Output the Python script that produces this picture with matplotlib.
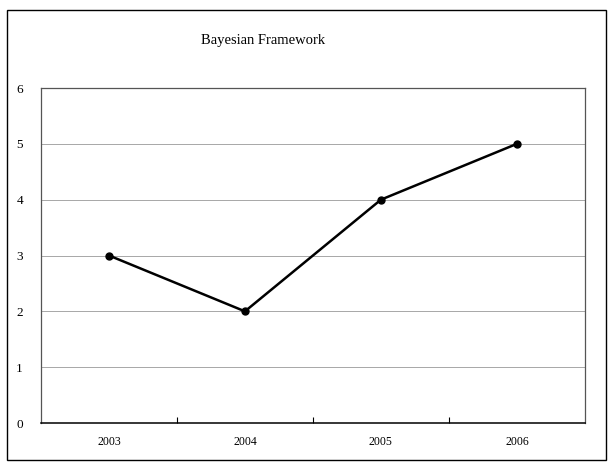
import matplotlib.pyplot as plt
from matplotlib.patches import Rectangle

years = ['2003', '2004', '2005', '2006']
values = [3, 2, 4, 5]

plt.rcParams['font.family'] = ['Liberation Serif', 'DejaVu Serif']

fig = plt.figure(figsize=(6.08, 4.62), dpi=100)
ax = fig.add_axes([0.0674, 0.0844, 0.8946, 0.7251])

# horizontal gridlines
for y in range(1, 7):
    ax.axhline(y, color='#999999', lw=0.6, zorder=1)

ax.plot(range(len(years)), values, color='black', lw=1.8, marker='o',
        markersize=5, zorder=3)

ax.set_xlim(-0.5, len(years) - 0.5)
ax.set_ylim(0, 6)
ax.set_yticks(range(0, 7))
ax.set_xticks(range(len(years)))
ax.set_xticklabels(years, fontsize=8.5)
ax.tick_params(axis='x', length=0, pad=9)
ax.tick_params(axis='y', length=0, pad=13, labelsize=9.5)
# category separator ticks (inward)
ax.set_xticks([0.5, 1.5, 2.5], minor=True)
ax.tick_params(axis='x', which='minor', direction='in', length=4, width=0.8)

for s in ax.spines.values():
    s.set_color('#555555')
    s.set_linewidth(0.9)
ax.spines['bottom'].set_color('black')
ax.spines['bottom'].set_linewidth(1.1)

fig.text(0.433, 0.913, 'Bayesian Framework', ha='center', va='center', fontsize=10.5)

# outer border
fig.patches.append(Rectangle((0.011, 0.004), 0.985, 0.974, transform=fig.transFigure,
                             fill=False, edgecolor='black', lw=1.0))

fig.savefig('out.png', dpi=100)
